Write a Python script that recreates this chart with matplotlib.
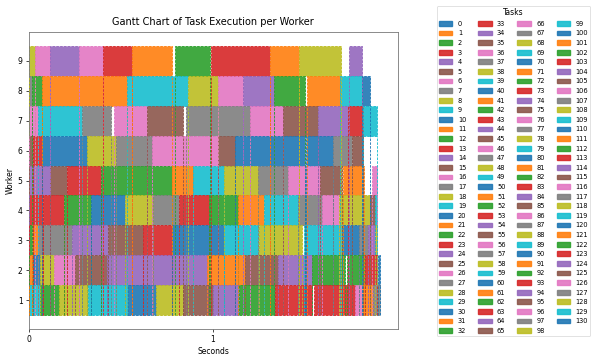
import matplotlib.pyplot as plt
import matplotlib.patches as mpatches

# task ids run on each worker, with start / end times in seconds
w9_tasks = [8, 6, 4, 16, 3, 1, 2, 13, 11, 18, 14]
w9_start = [0, 0.036, 0.114, 0.272, 0.401, 0.561, 0.793, 0.989, 1.310, 1.467, 1.739]
w9_end = [0.036, 0.114, 0.272, 0.401, 0.561, 0.779, 0.984, 1.310, 1.467, 1.696, 1.808]

w8_tasks = [7, 12, 21, 9, 28, 26, 24, 22, 31, 19, 0]
w8_start = [0, 0.016, 0.069, 0.534, 0.866, 1.025, 1.161, 1.332, 1.513, 1.690, 1.808]
w8_end = [0.016, 0.069, 0.534, 0.866, 1.025, 1.161, 1.332, 1.500, 1.690, 1.808, 1.853]

w7_tasks = [36, 29, 17, 46, 5, 27, 56, 15, 34, 23, 39]
w7_start = [0, 0.051, 0.290, 0.462, 0.640, 0.852, 1.201, 1.379, 1.572, 1.732, 1.812]
w7_end = [0.051, 0.290, 0.449, 0.640, 0.839, 1.201, 1.379, 1.572, 1.732, 1.812, 1.890]

w6_tasks = [25, 33, 10, 38, 37, 66, 35, 20, 30, 47, 45]
w6_start = [0, 0.024, 0.069, 0.317, 0.476, 0.670, 1.029, 1.120, 1.505, 1.654, 1.754]
w6_end = [0.024, 0.069, 0.317, 0.476, 0.670, 1.029, 1.120, 1.500, 1.654, 1.754, 1.813]

w5_tasks = [44, 55, 43, 32, 41, 49, 48, 57, 76, 65, 51, 86]
w5_start = [0, 0.114, 0.210, 0.391, 0.776, 0.893, 1.060, 1.246, 1.409, 1.582, 1.708, 1.862]
w5_end = [0.114, 0.210, 0.391, 0.776, 0.893, 1.060, 1.246, 1.409, 1.582, 1.699, 1.822, 1.890]

w4_tasks = [53, 63, 42, 40, 58, 67, 73, 52, 61, 59, 77, 96, 68, 75, 69]
w4_start = [0, 0.078, 0.190, 0.337, 0.522, 0.672, 0.817, 0.980, 1.134, 1.279, 1.460, 1.591, 1.686, 1.853, 1.880]
w4_end = [0.078, 0.190, 0.337, 0.522, 0.672, 0.817, 0.980, 1.134, 1.279, 1.460, 1.591, 1.686, 1.853, 1.880, 1.890]

w3_tasks = [62, 71, 87, 54, 85, 83, 50, 79, 78, 89, 60, 97, 64, 88]
w3_start = [0, 0.018, 0.051, 0.232, 0.431, 0.621, 0.775, 1.060, 1.250, 1.495, 1.699, 1.795, 1.844, 1.880]
w3_end = [0.018, 0.051, 0.232, 0.431, 0.621, 0.775, 1.060, 1.250, 1.482, 1.699, 1.795, 1.844, 1.880, 1.890]

w2_tasks = [81, 70, 98, 106, 95, 74, 91, 105, 84, 72, 82, 93, 80]
w2_start = [0, 0.024, 0.060, 0.136, 0.250, 0.426, 0.966, 1.174, 1.355, 1.537, 1.727, 1.826, 1.894]
w2_end = [0.024, 0.060, 0.136, 0.250, 0.426, 0.966, 1.174, 1.355, 1.537, 1.717, 1.826, 1.889, 1.908]

w1_tasks = [99, 92, 108, 109, 90, 118, 115, 94, 102, 103, 113, 116, 101, 107]
w1_start = [0, 0.060, 0.163, 0.323, 0.540, 0.690, 0.839, 1.002, 1.143, 1.337, 1.550, 1.772, 1.808, 1.871]
w1_end = [0.060, 0.163, 0.323, 0.540, 0.690, 0.839, 1.002, 1.143, 1.337, 1.536, 1.772, 1.808, 1.871, 1.908]

n_tasks = 131

workers = [
    (9, w9_tasks, w9_start, w9_end),
    (8, w8_tasks, w8_start, w8_end),
    (7, w7_tasks, w7_start, w7_end),
    (6, w6_tasks, w6_start, w6_end),
    (5, w5_tasks, w5_start, w5_end),
    (4, w4_tasks, w4_start, w4_end),
    (3, w3_tasks, w3_start, w3_end),
    (2, w2_tasks, w2_start, w2_end),
    (1, w1_tasks, w1_start, w1_end),
]

def task_color(t):
    return f"C{t % 10}"

fig = plt.figure(figsize=(6, 3.61), dpi=100)
ax = fig.add_axes([0.048, 0.089, 0.615, 0.822])

dash = (0, (2.6, 1.3))

# bars
for w, tasks, starts, ends in workers:
    for t, s, e in zip(tasks, starts, ends):
        ax.barh(w, e - s, left=s, height=1.0, color=task_color(t), alpha=0.9,
                edgecolor=task_color(t), linestyle=dash, linewidth=0.7, zorder=2)

# start / end markers dropped down to the bottom row
for w, tasks, starts, ends in workers:
    if w == 1:
        continue
    for t, s, e in zip(tasks, starts, ends):
        ax.vlines([s, e], 0.5, w - 0.5, colors=task_color(t), alpha=0.9,
                  linestyles=dash, linewidth=0.7, zorder=3)

ax.set_yticks(range(1, 10))
ax.set_xticks([0, 1])
ax.tick_params(labelsize=5.5, length=2.5, width=0.5, pad=2)
for sp in ax.spines.values():
    sp.set_linewidth(0.6)
    sp.set_color("#777777")
ax.set_xlabel("Seconds", fontsize=5.5, labelpad=2)
ax.set_ylabel("Worker", fontsize=5.5, labelpad=2)
ax.set_title("Gantt Chart of Task Execution per Worker", fontsize=7, pad=5)

handles = [mpatches.Patch(facecolor=task_color(i), edgecolor=task_color(i), alpha=0.9, label=str(i))
           for i in range(n_tasks)]
leg = fig.legend(handles=handles, title="Tasks", ncol=4, loc="upper left",
                 bbox_to_anchor=(0.728, 0.984), bbox_transform=fig.transFigure,
                 fontsize=4.8, title_fontsize=5.5, labelspacing=0.54,
                 handlelength=2.0, handletextpad=0.8, columnspacing=1.8,
                 borderaxespad=0, borderpad=0.35, frameon=True)
leg.get_frame().set_linewidth(0.5)

plt.savefig("out.png", dpi=100)
